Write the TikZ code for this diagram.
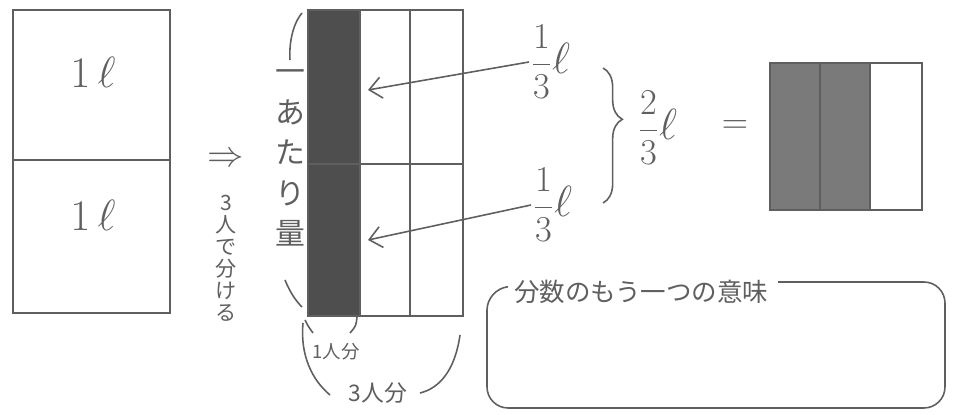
\documentclass[tikz,border=0pt]{standalone}
\usepackage{amsmath}
\usepackage{fontspec}
\newfontfamily\jp{Noto Sans CJK JP}
\usetikzlibrary{arrows.meta,decorations.pathreplacing}
\definecolor{pencil}{RGB}{95,95,95}
\definecolor{lead}{RGB}{78,78,78}
\definecolor{leadlt}{RGB}{122,122,122}
\newcommand{\litre}{\text{\fontsize{28}{28}\selectfont$\ell$}}

\begin{document}
\begin{tikzpicture}[x=0.02cm,y=-0.02cm,>={Straight Barb[length=7pt,width=12pt]},
  line/.style={pencil,line width=0.9pt},
  ink/.style={text=pencil,inner sep=1pt},
  big/.style={ink,font=\fontsize{28}{30}\selectfont},
  frac/.style={ink,font=\fontsize{22}{24}\selectfont},
  jtext/.style={ink,font=\jp\fontsize{#1}{#1}\selectfont},
  jtext/.default=14,
  vstack/.style 2 args={ink,align=center,font=\jp\fontsize{#1}{#2}\selectfont}]
  \useasboundingbox (0,0) rectangle (978,415);

  % (1) two litres
  \draw[line] (13,10) rectangle (170,313);
  \draw[line] (13,160) -- (170,160);
  \node[big] (litA) at (93,72) {$1\,\ell$};
  \node[big] (litB) at (93,215) {$1\,\ell$};

  % (2) shared by three
  \node[ink,font=\fontsize{20}{20}\selectfont] (give) at (226,160) {$\Rightarrow$};
  \node[vstack={12}{12.5}] (share) at (226,258) {3\\人\\で\\分\\け\\る};
  \node[vstack={17}{23}] (per) at (290,158) {一\\あ\\た\\り\\量};
  \draw[line] (302,13) .. controls (292,25) and (289,45) .. (290,60);
  \draw[line] (285,280) .. controls (290,292) and (295,300) .. (302,307);

  % two litres cut in thirds
  \fill[lead] (308,10) rectangle (360,316);
  \draw[line] (308,10) rectangle (463,316);
  \foreach \x in {360,410} \draw[line] (\x,10) -- (\x,316);
  \draw[line] (308,164) -- (463,164);
  \coordinate (tipA) at (368,90);
  \coordinate (tipB) at (368,240);

  % one share, three shares
  \draw[line] (305,320) .. controls (308,326) .. (313,333);
  \draw[line] (357,317) .. controls (356,326) .. (350,333);
  \draw[line] (303,323) .. controls (300,355) and (312,380) .. (330,395);
  \draw[line] (420,393) .. controls (440,388) and (455,370) .. (460,335);
  \node[jtext=10.5] (oneshare) at (336,352) {1人分};
  \node[jtext=13] (threeshare) at (378,393) {3人分};

  % (3) the thirds add up
  \node[frac,anchor=west] (thirdA) at (529,62) {$\dfrac{1}{3}\litre$};
  \node[frac,anchor=west] (thirdB) at (531,205) {$\dfrac{1}{3}\litre$};
  \draw[line,->] (thirdA.west) -- (tipA);
  \draw[line,->] (thirdB.west) -- (tipB);
  \draw[line,decorate,decoration={brace,amplitude=11pt,aspect=0.38}] (603,68) -- (603,203);
  \node[frac,anchor=west] (twothird) at (636,128) {$\dfrac{2}{3}\litre$};
  \node[frac] (eq) at (735,127) {$=$};
  \fill[leadlt] (770,63) rectangle (870,210);
  \draw[line] (770,63) rectangle (922,210);
  \foreach \x in {820,870} \draw[line] (\x,63) -- (\x,210);

  % (4) box for the other meaning
  \node[jtext=14.5,anchor=west] (meaning) at (512,292) {分数のもう一つの意味};
  \coordinate (gapL) at (506,287);
  \coordinate (gapR) at (778,282);
  \draw[line,rounded corners=12] (gapL) -- (487,289) -- (487,408) -- (945,408)
    -- (945,282) -- (gapR);
\end{tikzpicture}
\end{document}
